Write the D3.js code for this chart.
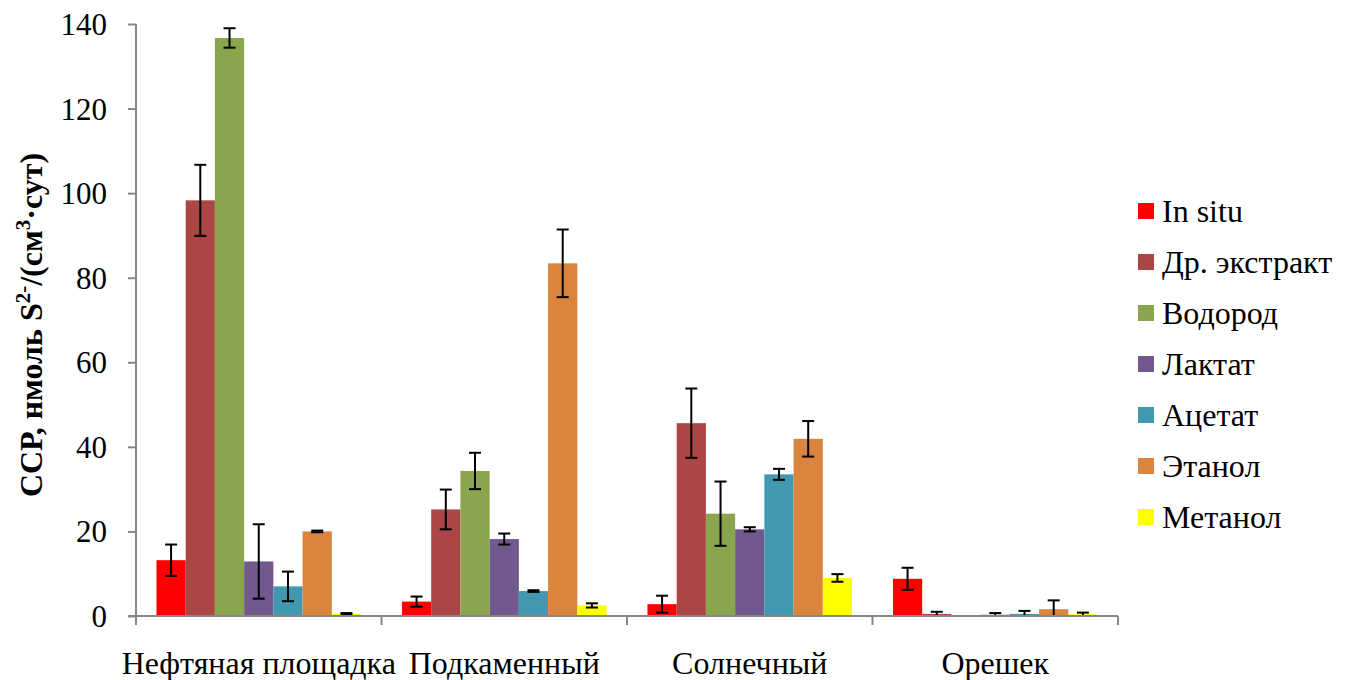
<!DOCTYPE html>
<meta charset="utf-8">
<script src="https://d3js.org/d3.v7.min.js"></script>
<style>
	body{
		margin:0;
		background:#fff;
	}
</style>
<div id="chart"></div>
<script>

var sites = ["Нефтяная площадка","Подкаменный","Солнечный","Орешек"]
var series = ["In situ","Др. экстракт","Водород","Лактат","Ацетат","Этанол","Метанол"]
var colors = ["#FF0000","#AA4643","#89A54E","#71588F","#4198AF","#DB843D","#FFFF00"]
var yTicks = [0,20,40,60,80,100,120,140]

// values per series, one per site
var values = [
	[13.2, 3.4, 2.8, 8.8],
	[98.3, 25.2, 45.6, 0.5],
	[136.7, 34.3, 24.2, 0.2],
	[12.9, 18.2, 20.5, 0.3],
	[7.0, 5.9, 33.5, 0.5],
	[20.0, 83.4, 41.9, 1.6],
	[0.5, 2.5, 9.0, 0.4]
]
// +/- error
var errors = [
	[3.7, 1.2, 2.0, 2.6],
	[8.4, 4.7, 8.2, 0.5],
	[2.3, 4.3, 7.6, 0],
	[8.8, 1.3, 0.5, 0.4],
	[3.5, 0.2, 1.3, 0.7],
	[0.2, 8.0, 4.2, 2.1],
	[0.2, 0.5, 0.9, 0.4]
]

var serif = "'Liberation Serif'"
var W = 1346, H = 680
var mLeft = 136, mRight = 1118, mTop = 24, mBottom = 616

var svg = d3.select("#chart").append("svg").attr("width",W).attr("height",H)

var x0 = d3.scaleBand().domain(sites).range([mLeft,mRight]).paddingInner(0).paddingOuter(0)
var x1 = d3.scaleBand().domain(series).range([0,x0.bandwidth()]).paddingOuter(0.7).paddingInner(0)
var y = d3.scaleLinear().domain([0,140]).range([mBottom,mTop])

// bars
var groups = svg.append("g").selectAll("g").data(series).join("g")
	.attr("fill",function(d,i){return colors[i]})

groups.selectAll("rect").data(function(d,i){
		return sites.map(function(s,j){return {site:s,s:d,v:values[i][j],e:errors[i][j]}})
	}).join("rect")
	.attr("x",function(d){return x0(d.site)+x1(d.s)})
	.attr("width",x1.bandwidth())
	.attr("y",function(d){return y(d.v)})
	.attr("height",function(d){return y(0)-y(d.v)})

// error bars
var eb = svg.append("g").attr("stroke","#000").attr("stroke-width",2)
series.forEach(function(s,i){
	sites.forEach(function(site,j){
		var e = errors[i][j]
		if(e<=0) return
		var cx = x0(site)+x1(s)+x1.bandwidth()/2
		var y1 = y(values[i][j]+e), y2 = y(Math.max(values[i][j]-e,0))
		eb.append("line").attr("x1",cx).attr("x2",cx).attr("y1",y1).attr("y2",y2)
		eb.append("line").attr("x1",cx-6).attr("x2",cx+6).attr("y1",y1).attr("y2",y1)
		eb.append("line").attr("x1",cx-6).attr("x2",cx+6).attr("y1",y2).attr("y2",y2)
	})
})

// y axis
var yAxis = svg.append("g").attr("transform","translate("+mLeft+",0)")
	.call(d3.axisLeft(y).tickValues(yTicks).tickSize(8).tickPadding(21))
yAxis.selectAll("line,path").attr("stroke","#868686").attr("stroke-width",2)
yAxis.select("path").attr("d","M0,"+mTop+"V"+(mBottom+8))
yAxis.selectAll("text").style("font-family",serif).style("font-size","31px").attr("fill","#000").attr("dy","0.34em")

// x axis
var xa = svg.append("g").attr("stroke","#868686").attr("stroke-width",2)
xa.append("line").attr("x1",mLeft-8).attr("x2",mRight).attr("y1",mBottom).attr("y2",mBottom)
var bounds = sites.map(function(s){return x0(s)}).concat([mRight])
xa.selectAll(".tk").data(bounds).join("line")
	.attr("x1",function(d){return d}).attr("x2",function(d){return d})
	.attr("y1",mBottom).attr("y2",mBottom+9)

svg.append("g").selectAll("text").data(sites).join("text")
	.attr("x",function(d){return x0(d)+x0.bandwidth()/2})
	.attr("y",674)
	.attr("text-anchor","middle")
	.style("font-family",serif).style("font-size","32px")
	.text(function(d){return d})

// y title
var yt = svg.append("text")
	.attr("transform","translate(42,325) rotate(-90)")
	.attr("text-anchor","middle")
	.style("font-family",serif).style("font-size","32px").style("font-weight","bold")
yt.append("tspan").text("ССР, нмоль S")
yt.append("tspan").text("2-").style("font-size","21px").attr("dy","-12")
yt.append("tspan").text("/(см").attr("dy","12")
yt.append("tspan").text("3").style("font-size","21px").attr("dy","-12")
yt.append("tspan").text("·сут)").attr("dy","12")

// legend
var lg = svg.append("g").selectAll("g").data(series).join("g")
	.attr("transform",function(d,i){return "translate(1138,"+(211+i*51)+")"})
lg.append("rect").attr("x",0).attr("y",-8).attr("width",16).attr("height",16)
	.attr("fill",function(d,i){return colors[i]})
lg.append("text").attr("x",24).attr("y",11)
	.style("font-family",serif).style("font-size","32px")
	.text(function(d){return d})

</script>
